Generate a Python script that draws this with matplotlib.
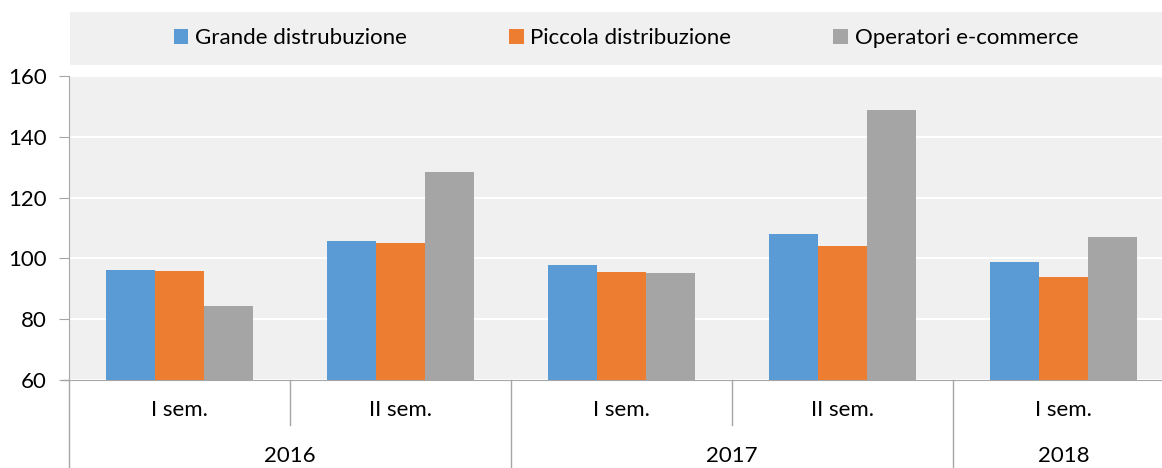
import matplotlib
matplotlib.use("Agg")
import matplotlib.pyplot as plt
from matplotlib.patches import Rectangle
from matplotlib.transforms import blended_transform_factory

plt.rcParams["font.family"] = ["Lato", "DejaVu Sans"]

semesters = ["I sem.", "II sem.", "I sem.", "II sem.", "I sem."]
years = ["2016", "2017", "2018"]
year_spans = [(0, 1), (2, 3), (4, 4)]

series_names = ["Grande distrubuzione", "Piccola distribuzione", "Operatori e-commerce"]
grande = [96.2, 105.6, 97.8, 108.0, 98.8]
piccola = [95.8, 105.1, 95.5, 104.1, 93.9]
ecommerce = [84.3, 128.4, 95.2, 148.8, 107.0]
colors = ["#5b9bd5", "#ed7d31", "#a5a5a5"]

BG = "#f0f0f0"
AXIS = "#a6a6a6"
FS = 16

fig = plt.figure(figsize=(11.62, 4.68), dpi=100)
W, H = 1162, 468

# legend band
fig.patches.append(Rectangle((70 / W, 1 - 65 / H), 1.2, 53 / H,
                             transform=fig.transFigure, facecolor=BG,
                             edgecolor="none", zorder=0))

left, right, top, bottom = 69, 1174, 76, 380
ax = fig.add_axes([left / W, 1 - bottom / H, (right - left) / W, (bottom - top) / H])
ax.set_facecolor(BG)

x = list(range(len(semesters)))
bw = 0.223
for i, (vals, name, c) in enumerate(zip([grande, piccola, ecommerce], series_names, colors)):
    ax.bar([xi + (i - 1) * bw for xi in x], vals, width=bw, color=c,
           label=name, zorder=3)

ax.set_ylim(60, 160)
ax.set_xlim(-0.5, len(semesters) - 0.5)
ax.set_yticks(range(60, 161, 20))
ax.yaxis.grid(True, color="white", linewidth=1.5, zorder=1)
ax.set_axisbelow(True)

for s in ["top", "right"]:
    ax.spines[s].set_visible(False)
ax.spines["left"].set_color(AXIS)
ax.spines["bottom"].set_color(AXIS)
ax.tick_params(axis="y", colors=AXIS, labelcolor="black", labelsize=FS,
               length=7, direction="out", pad=9)
ax.set_xticks(x)
ax.set_xticklabels([])
ax.tick_params(axis="x", length=0)

tr = blended_transform_factory(ax.transData, ax.transAxes)
ax_h = bottom - top
def ay(py):
    return (bottom - py) / ax_h

for xi, lab in zip(x, semesters):
    ax.text(xi, ay(410), lab, transform=tr, ha="center", va="center", fontsize=FS)

for (a, b), yr in zip(year_spans, years):
    ax.text((a + b) / 2, ay(456), yr, transform=tr, ha="center", va="center", fontsize=FS)

# separators
for xs in [0.5, 2.5]:
    ax.plot([xs, xs], [0, ay(425)], transform=tr, color=AXIS, lw=1, clip_on=False)
for xs in [-0.5, 1.5, 3.5]:
    ax.plot([xs, xs], [0, ay(470)], transform=tr, color=AXIS, lw=1, clip_on=False)
ax.plot([-0.5 - 0.033, -0.5], [0, 0], transform=tr, color=AXIS, lw=1, clip_on=False)

fig.legend(loc="center", bbox_to_anchor=(626 / W, 1 - 38 / H), ncol=3,
           frameon=False, fontsize=FS, handlelength=0.65, handleheight=0.65,
           handletextpad=0.3, columnspacing=4.6)

fig.savefig("out.png", dpi=100)
